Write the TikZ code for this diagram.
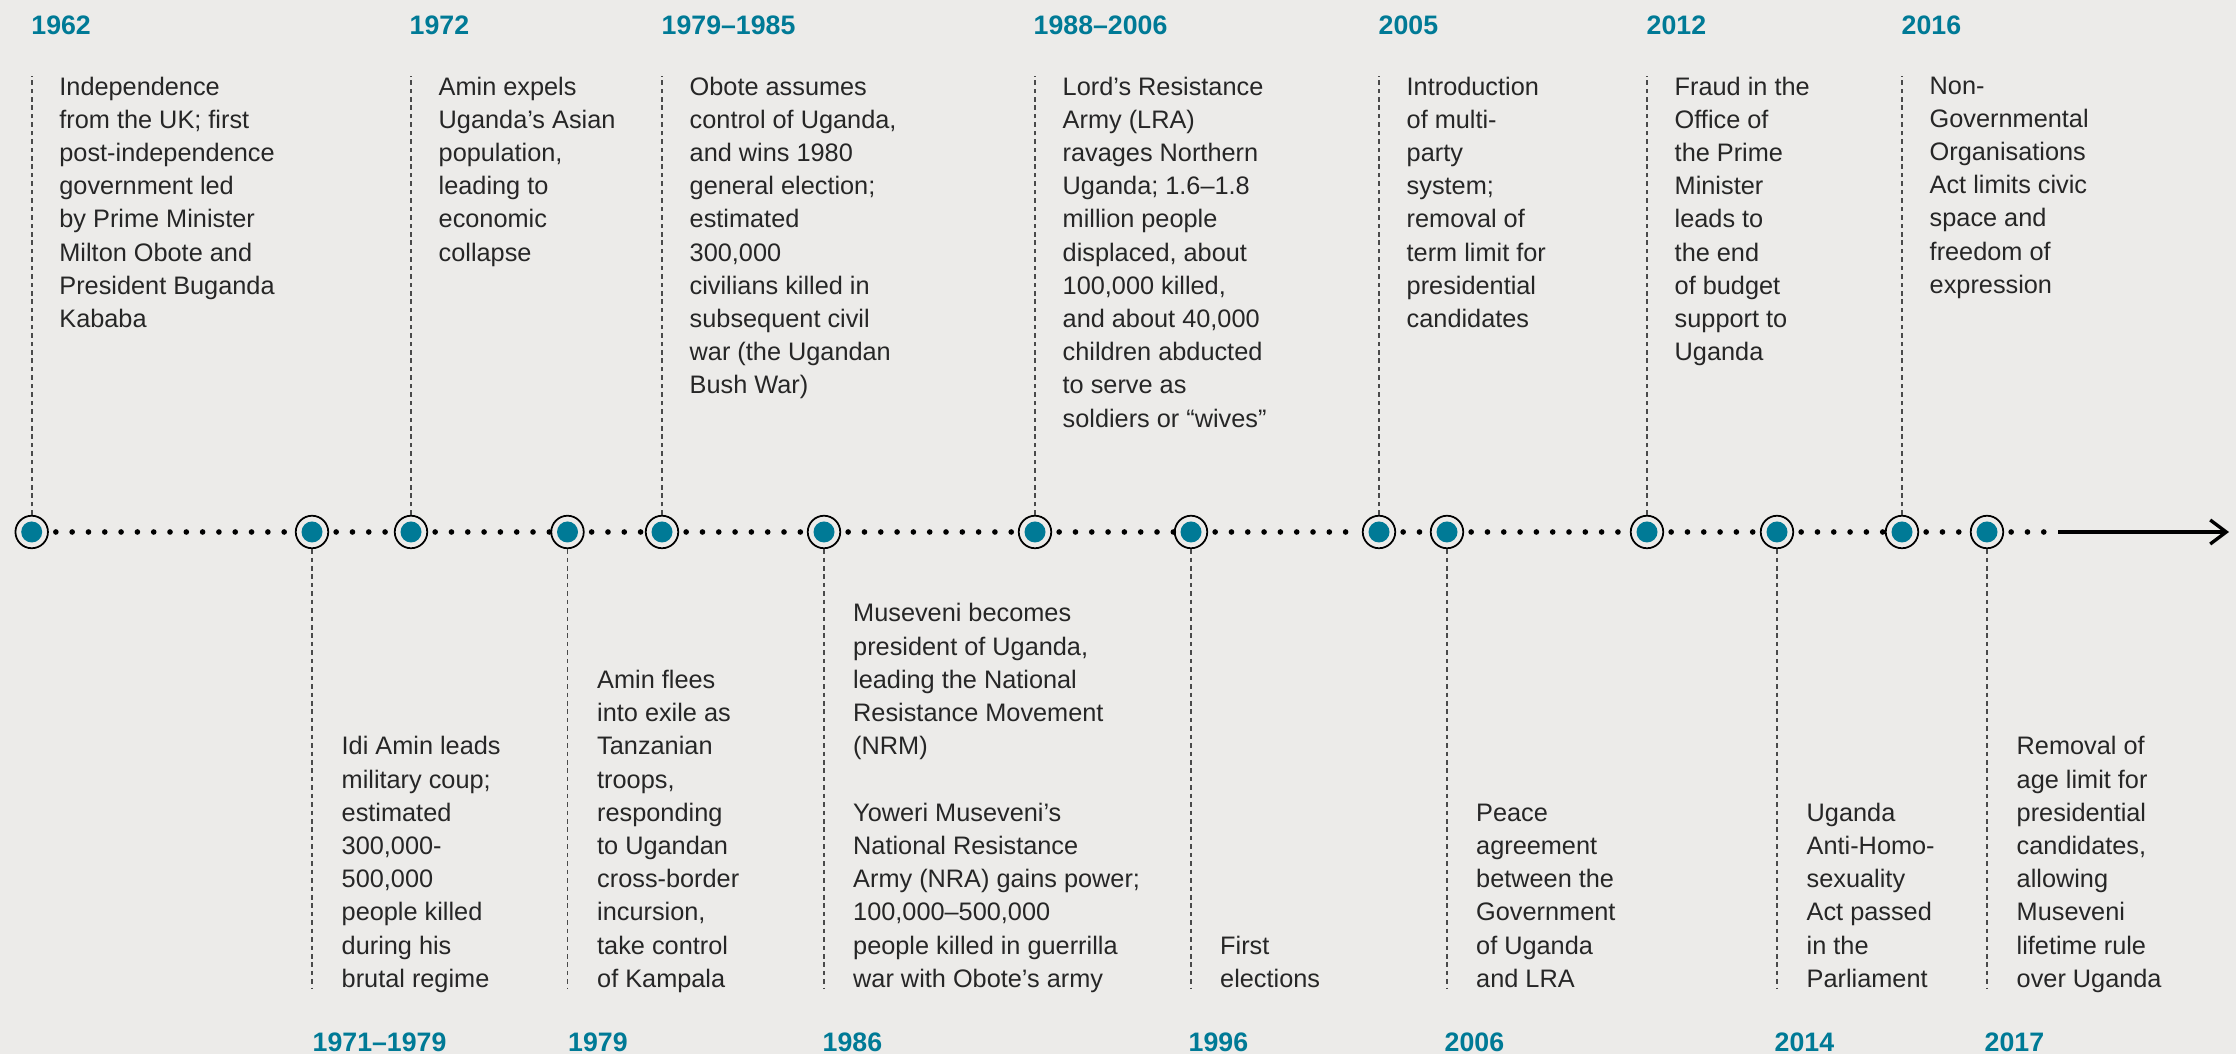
\documentclass[tikz,border=0pt]{standalone}
\usepackage{fontspec}
\setmainfont{Liberation Sans}
\usetikzlibrary{arrows.meta}

\definecolor{paper}{HTML}{ECEBE9}
\definecolor{uteal}{HTML}{007A96}
\definecolor{ink}{HTML}{262626}
\definecolor{guide}{HTML}{4A4A4A}

\newcommand\evfont{\fontsize{7.2pt}{9.45pt}\selectfont}
\newcommand\yrfont{\fontsize{7.6pt}{9pt}\selectfont\bfseries}

\begin{document}
\begin{tikzpicture}[
    stop/.style={circle,draw=black,line width=0.5pt,fill=paper,minimum size=3.25mm,inner sep=0pt,
      path picture={\fill[uteal] (path picture bounding box.center) circle (1.05mm);}},
    yr/.style={anchor=west,inner sep=0pt,font=\yrfont,text=uteal},
    uptext/.style={anchor=north west,align=left,inner sep=0pt,font=\evfont,text=ink},
    downtext/.style={anchor=south west,align=left,inner sep=0pt,font=\evfont,text=ink},
    guideline/.style={draw=guide,line width=0.5pt,dash pattern=on 1.3pt off 1.1pt},
    axis/.style={line width=1.6pt,line cap=round,dash pattern=on 0pt off 4.64pt,dash phase=2.64pt},
    arrowline/.style={line width=0.95pt,-{Straight Barb[length=1.6mm,width=2.4mm]}}]
        % \draw[help lines] (0,-5) grid (22,5);
        \fill[paper] (0,-5.22) rectangle (22.36,5.32);
        \useasboundingbox (0,-5.22) rectangle (22.36,5.32);

        % milestones
        \node[stop] (ind62) at (0.317,0) {};
        \node[stop] (amin71) at (3.12,0) {};
        \node[stop] (exp72) at (4.11,0) {};
        \node[stop] (flee79) at (5.675,0) {};
        \node[stop] (obote79) at (6.62,0) {};
        \node[stop] (nrm86) at (8.24,0) {};
        \node[stop] (lra88) at (10.35,0) {};
        \node[stop] (vote96) at (11.91,0) {};
        \node[stop] (party05) at (13.79,0) {};
        \node[stop] (peace06) at (14.47,0) {};
        \node[stop] (fraud12) at (16.47,0) {};
        \node[stop] (act14) at (17.77,0) {};
        \node[stop] (ngo16) at (19.02,0) {};
        \node[stop] (age17) at (19.87,0) {};
        \coordinate (tail) at (20.58,0);
        \coordinate (tip) at (22.29,0);

        % years, top row
        \node[yr] (ind62y) at (0.307,5.065) {1962};
        \node[yr] (exp72y) at (4.09,5.065) {1972};
        \node[yr] (obote79y) at (6.61,5.065) {1979–1985};
        \node[yr] (lra88y) at (10.33,5.065) {1988–2006};
        \node[yr] (party05y) at (13.78,5.065) {2005};
        \node[yr] (fraud12y) at (16.46,5.065) {2012};
        \node[yr] (ngo16y) at (19.01,5.065) {2016};

        % years, bottom row
        \node[yr] (amin71y) at (3.12,-5.10) {1971–1979};
        \node[yr] (flee79y) at (5.675,-5.10) {1979};
        \node[yr] (nrm86y) at (8.22,-5.10) {1986};
        \node[yr] (vote96y) at (11.88,-5.10) {1996};
        \node[yr] (peace06y) at (14.44,-5.10) {2006};
        \node[yr] (act14y) at (17.74,-5.10) {2014};
        \node[yr] (age17y) at (19.84,-5.10) {2017};

        % events above the line
        \node[uptext] (ind62t) at (0.587,4.56) {Independence\\from the UK; first\\post-independence\\government led\\by Prime Minister\\Milton Obote and\\President Buganda\\Kababa};
        \node[uptext] (exp72t) at (4.38,4.56) {Amin expels\\Uganda’s Asian\\population,\\leading to\\economic\\collapse};
        \node[uptext] (obote79t) at (6.89,4.56) {Obote assumes\\control of Uganda,\\and wins 1980\\general election;\\estimated\\300,000\\civilians killed in\\subsequent civil\\war (the Ugandan\\Bush War)};
        \node[uptext] (lra88t) at (10.62,4.56) {Lord’s Resistance\\Army (LRA)\\ravages Northern\\Uganda; 1.6–1.8\\million people\\displaced, about\\100,000 killed,\\and about 40,000\\children abducted\\to serve as\\soldiers or “wives”};
        \node[uptext] (party05t) at (14.06,4.56) {Introduction\\of multi-\\party\\system;\\removal of\\term limit for\\presidential\\candidates};
        \node[uptext] (fraud12t) at (16.74,4.56) {Fraud in the\\Office of\\the Prime\\Minister\\leads to\\the end\\of budget\\support to\\Uganda};
        \node[uptext] (ngo16t) at (19.29,4.56) {Non-\\Governmental\\Organisations\\Act limits civic\\space and\\freedom of\\expression};

        % events below the line
        \node[downtext] (amin71t) at (3.41,-4.66) {Idi Amin leads\\military coup;\\estimated\\300,000-\\500,000\\people killed\\during his\\brutal regime\strut};
        \node[downtext] (flee79t) at (5.965,-4.66) {Amin flees\\into exile as\\Tanzanian\\troops,\\responding\\to Ugandan\\cross-border\\incursion,\\take control\\of Kampala\strut};
        \node[downtext] (nrm86t) at (8.525,-4.66) {Museveni becomes\\president of Uganda,\\leading the National\\Resistance Movement\\(NRM)\\[9.45pt]Yoweri Museveni’s\\National Resistance\\Army (NRA) gains power;\\100,000–500,000\\people killed in guerrilla\\war with Obote’s army\strut};
        \node[downtext] (vote96t) at (12.195,-4.66) {First\\elections\strut};
        \node[downtext] (peace06t) at (14.755,-4.66) {Peace\\agreement\\between the\\Government\\of Uganda\\and LRA\strut};
        \node[downtext] (act14t) at (18.06,-4.66) {Uganda\\Anti-Homo-\\sexuality\\Act passed\\in the\\Parliament\strut};
        \node[downtext] (age17t) at (20.16,-4.66) {Removal of\\age limit for\\presidential\\candidates,\\allowing\\Museveni\\lifetime rule\\over Uganda\strut};

        % dashed guides
        \draw[guideline] (ind62) -- (ind62 |- ind62t.north);
        \draw[guideline] (exp72) -- (exp72 |- exp72t.north);
        \draw[guideline] (obote79) -- (obote79 |- obote79t.north);
        \draw[guideline] (lra88) -- (lra88 |- lra88t.north);
        \draw[guideline] (party05) -- (party05 |- party05t.north);
        \draw[guideline] (fraud12) -- (fraud12 |- fraud12t.north);
        \draw[guideline] (ngo16) -- (ngo16 |- ngo16t.north);
        \draw[guideline] (amin71) -- ([yshift=1mm]amin71 |- amin71t.south);
        \draw[guideline] (flee79) -- ([yshift=1mm]flee79 |- flee79t.south);
        \draw[guideline] (nrm86) -- ([yshift=1mm]nrm86 |- nrm86t.south);
        \draw[guideline] (vote96) -- ([yshift=1mm]vote96 |- vote96t.south);
        \draw[guideline] (peace06) -- ([yshift=1mm]peace06 |- peace06t.south);
        \draw[guideline] (act14) -- ([yshift=1mm]act14 |- act14t.south);
        \draw[guideline] (age17) -- ([yshift=1mm]age17 |- age17t.south);

        % the time axis
        \draw[axis] (ind62) -- (amin71) -- (exp72) -- (flee79) -- (obote79) -- (nrm86) -- (lra88) -- (vote96)
            -- (party05) -- (peace06) -- (fraud12) -- (act14) -- (ngo16) -- (age17) -- (tail);
        \draw[arrowline] (tail) -- (tip);
    \end{tikzpicture}
\end{document}
